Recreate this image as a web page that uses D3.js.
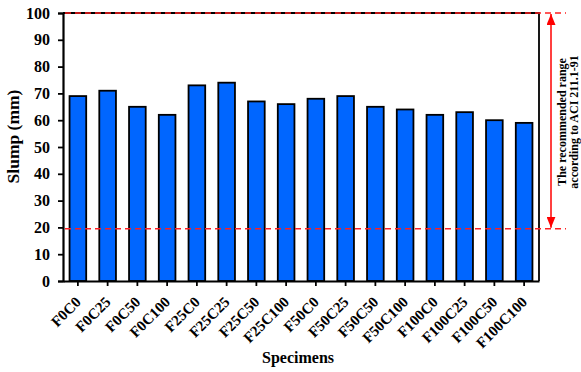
<!DOCTYPE html>
<html><head><meta charset="utf-8">
<script src="https://cdn.jsdelivr.net/npm/d3@7"></script>
<style>body{margin:0;background:#fff}svg{display:block}</style>
</head><body>
<script>
const categories = ["F0C0","F0C25","F0C50","F0C100","F25C0","F25C25","F25C50","F25C100","F50C0","F50C25","F50C50","F50C100","F100C0","F100C25","F100C50","F100C100"];
const slump = [69,71,65,62,73,74,67,66,68,69,65,64,62,63,60,59];
const yTicks = [0,10,20,30,40,50,60,70,80,90,100];
const rangeLimits = [19.5, 100];
const rangeText = ["The recommended range", "according to ACI 211.1-91"];

const W = 581, H = 372;
const m = {left: 63, right: 42, top: 13, bottom: 91};
const svg = d3.select("body").append("svg").attr("width", W).attr("height", H);
const font = "'Liberation Serif', 'Times New Roman', serif";

const x = d3.scaleBand().domain(categories).range([m.left, W - m.right]).paddingInner(0.44).paddingOuter(0.22);
const y = d3.scaleLinear().domain([0, 100]).range([H - m.bottom, m.top]);

// bars
svg.append("g").selectAll("rect").data(slump).join("rect")
  .attr("x", (d, i) => x(categories[i]))
  .attr("y", d => y(d))
  .attr("width", x.bandwidth())
  .attr("height", d => y(0) - y(d))
  .attr("fill", "#0066ff")
  .attr("stroke", "#000").attr("stroke-width", 1.8);

// frame (top and right)
svg.append("path")
  .attr("d", `M${m.left},${y(100)}H${W - m.right}V${y(0)}`)
  .attr("fill", "none").attr("stroke", "#000").attr("stroke-width", 1.8);

// y axis
const ya = svg.append("g").attr("transform", `translate(${m.left},0)`)
  .call(d3.axisLeft(y).tickValues(yTicks).tickSize(5).tickPadding(8));
ya.select(".domain").attr("stroke-width", 2.2);
ya.selectAll(".tick line").attr("stroke-width", 1.8);
ya.selectAll("text").attr("font-family", font).attr("font-weight", "bold").attr("font-size", 16).attr("fill", "#000");

// x axis
const xa = svg.append("g").attr("transform", `translate(0,${y(0)})`)
  .call(d3.axisBottom(x).tickSize(5).tickSizeOuter(0));
xa.select(".domain").attr("stroke-width", 2.2);
xa.selectAll(".tick line").attr("stroke-width", 1.8);
xa.selectAll("text")
  .attr("font-family", font).attr("font-weight", "bold").attr("font-size", 15).attr("fill", "#000")
  .attr("text-anchor", "end")
  .attr("x", 0).attr("y", 0).attr("dy", 0)
  .attr("transform", "translate(4,22) rotate(-45)");

// dashed range lines
const lineEnd = 566;
svg.append("g").selectAll("line").data(rangeLimits).join("line")
  .attr("x1", m.left + 2).attr("x2", lineEnd)
  .attr("y1", d => y(d)).attr("y2", d => y(d))
  .attr("stroke", "#ff2020").attr("stroke-width", 1.5).attr("stroke-dasharray", "6,4");

// double arrow
const ax = 551;
const defs = svg.append("defs");
defs.append("marker").attr("id", "ah").attr("viewBox", "0 0 10 10").attr("refX", 10).attr("refY", 5)
  .attr("markerWidth", 11).attr("markerHeight", 9).attr("markerUnits", "userSpaceOnUse").attr("orient", "auto-start-reverse")
  .attr("preserveAspectRatio", "none")
  .append("path").attr("d", "M0,0L10,5L0,10Z").attr("fill", "#ff0000");
svg.append("line")
  .attr("x1", ax).attr("x2", ax)
  .attr("y1", y(rangeLimits[1]) + 1).attr("y2", y(rangeLimits[0]) - 1)
  .attr("stroke", "#ff0000").attr("stroke-width", 1.5)
  .attr("marker-start", "url(#ah)").attr("marker-end", "url(#ah)");

// range text
const cy = 122;
svg.append("g").selectAll("text").data(rangeText).join("text")
  .attr("transform", (d, i) => `translate(${566 + i * 12},${cy}) rotate(-90)`)
  .attr("text-anchor", "middle")
  .attr("font-family", font).attr("font-weight", "bold").attr("font-size", 12)
  .text(d => d);

// axis titles
svg.append("text")
  .attr("transform", `translate(19,136.5) rotate(-90)`)
  .attr("text-anchor", "middle")
  .attr("font-family", font).attr("font-weight", "bold").attr("font-size", 17.5)
  .text("Slump (mm)");
svg.append("text")
  .attr("x", 298).attr("y", 363)
  .attr("text-anchor", "middle")
  .attr("font-family", font).attr("font-weight", "bold").attr("font-size", 16)
  .text("Specimens");
</script>
</body></html>
